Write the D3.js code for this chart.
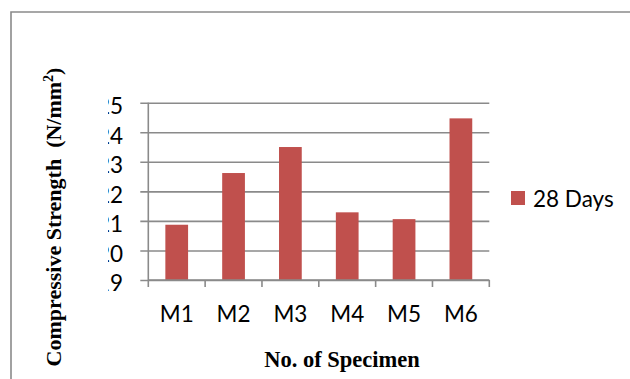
<!DOCTYPE html>
<html>
<head>
<meta charset="utf-8">
<script src="https://cdn.jsdelivr.net/npm/d3@7"></script>
<style>
  body { margin: 0; background: #fff; }
  svg { display: block; }
  text { white-space: pre; }
</style>
</head>
<body>
<svg id="chart" width="630" height="379"></svg>
<script>
// Compressive strength at 28 days for each mix
const categories = ["M1", "M2", "M3", "M4", "M5", "M6"];
const strength28 = [20.87, 22.62, 23.5, 21.29, 21.06, 24.47];
const yTicks = [19, 20, 21, 22, 23, 24, 25];
const seriesName = "28 Days";
const xTitle = "No. of Specimen";
const yTitle = "Compressive Strength  (N/mm";
const yTitleSup = "2";

const svg = d3.select("#chart");
const W = 630, H = 379;
const plot = { left: 148.3, right: 489.3, top: 102.7, bottom: 280 };
const grey = "#8a8a8a";
const barColor = "#c0504d";
const labelFont = "Lato, 'Open Sans', sans-serif";
const labelSize = 22.5;
const titleFont = "'Liberation Serif', 'Times New Roman', serif";

// Outer chart frame (left and top edges visible)
svg.append("path")
  .attr("d", `M11,${H + 2}V12H${W + 2}`)
  .attr("fill", "none")
  .attr("stroke", grey)
  .attr("stroke-width", 1.6);

const x = d3.scaleBand()
  .domain(categories)
  .range([plot.left, plot.right])
  .paddingInner(0.6)
  .paddingOuter(0.3);

const y = d3.scaleLinear()
  .domain([d3.min(yTicks), d3.max(yTicks)])
  .range([plot.bottom, plot.top]);

// Horizontal gridlines with short outward ticks
const yAxis = d3.axisLeft(y)
  .tickValues(yTicks)
  .tickSize(-(plot.right - plot.left))
  .tickFormat("");
const gy = svg.append("g")
  .attr("transform", `translate(${plot.left},0)`)
  .call(yAxis);
gy.select(".domain").remove();
gy.selectAll(".tick line")
  .attr("x1", -8)
  .attr("stroke", grey)
  .attr("stroke-width", 1.6);

// Y tick labels
svg.append("g")
  .selectAll("text")
  .data(yTicks)
  .join("text")
  .attr("x", 123)
  .attr("y", d => y(d))
  .attr("dy", "0.5em")
  .attr("text-anchor", "end")
  .attr("font-family", labelFont)
  .attr("font-size", labelSize)
  .attr("fill", "#000")
  .text(d => d);

// Bars
svg.append("g")
  .selectAll("rect")
  .data(categories.map((c, i) => ({ c, v: strength28[i] })))
  .join("rect")
  .attr("x", d => x(d.c))
  .attr("y", d => y(d.v))
  .attr("width", x.bandwidth())
  .attr("height", d => y(y.domain()[0]) - y(d.v))
  .attr("fill", barColor);

// Vertical axis line
svg.append("line")
  .attr("x1", plot.left).attr("x2", plot.left)
  .attr("y1", plot.top).attr("y2", plot.bottom)
  .attr("stroke", grey).attr("stroke-width", 1.6);

// Category axis with tick marks at band boundaries
const bounds = categories.map(c => x(c) - x.step() * x.paddingInner() / 2)
  .concat([plot.right]);
const gx = svg.append("g");
gx.append("line")
  .attr("x1", plot.left).attr("x2", plot.right)
  .attr("y1", plot.bottom).attr("y2", plot.bottom)
  .attr("stroke", grey).attr("stroke-width", 1.6);
gx.selectAll("line.tk")
  .data(bounds)
  .join("line")
  .attr("class", "tk")
  .attr("x1", d => d).attr("x2", d => d)
  .attr("y1", plot.bottom).attr("y2", plot.bottom + 7)
  .attr("stroke", grey).attr("stroke-width", 1.6);
gx.selectAll("text")
  .data(categories)
  .join("text")
  .attr("x", d => x(d) + x.bandwidth() / 2)
  .attr("y", 322)
  .attr("text-anchor", "middle")
  .attr("font-family", labelFont)
  .attr("font-size", labelSize)
  .attr("fill", "#000")
  .text(d => d);

// Axis title area (its box overlaps the tick labels)
svg.append("rect")
  .attr("x", 13).attr("y", 60)
  .attr("width", 95).attr("height", 310)
  .attr("fill", "#fff");

svg.append("text")
  .attr("transform", "translate(61,217) rotate(-90)")
  .attr("text-anchor", "middle")
  .attr("font-family", titleFont)
  .attr("font-weight", "bold")
  .attr("font-size", 22)
  .attr("fill", "#000")
  .call(t => {
    t.append("tspan").text(yTitle);
    t.append("tspan").attr("font-size", 14).attr("dy", -8).text(yTitleSup);
    t.append("tspan").attr("dy", 8).text(")");
  });

svg.append("text")
  .attr("x", 342)
  .attr("y", 367)
  .attr("text-anchor", "middle")
  .attr("font-family", titleFont)
  .attr("font-weight", "bold")
  .attr("font-size", 22.5)
  .attr("fill", "#000")
  .text(xTitle);

// Legend
const lg = svg.append("g");
lg.append("rect")
  .attr("x", 511).attr("y", 191)
  .attr("width", 14).attr("height", 14)
  .attr("fill", barColor);
lg.append("text")
  .attr("x", 533).attr("y", 207)
  .attr("font-family", labelFont)
  .attr("font-size", labelSize)
  .attr("fill", "#000")
  .text(seriesName);
</script>
</body>
</html>
